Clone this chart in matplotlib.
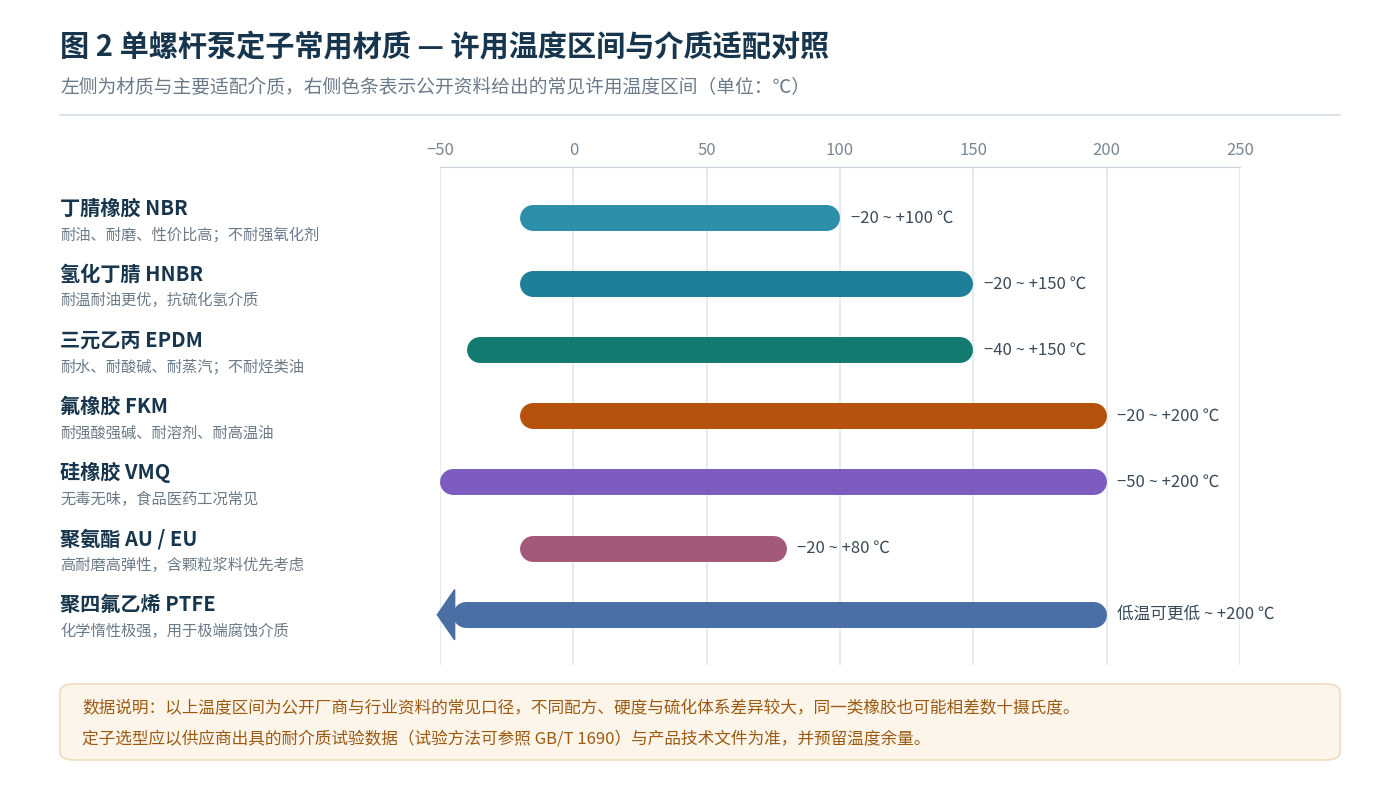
import matplotlib.pyplot as plt
from matplotlib.patches import FancyBboxPatch, Polygon

plt.rcParams['font.family'] = ['Noto Sans CJK SC', 'DejaVu Sans']

names = ["丁腈橡胶 NBR", "氢化丁腈 HNBR", "三元乙丙 EPDM", "氟橡胶 FKM",
         "硅橡胶 VMQ", "聚氨酯 AU / EU", "聚四氟乙烯 PTFE"]
notes = ["耐油、耐磨、性价比高；不耐强氧化剂", "耐温耐油更优，抗硫化氢介质",
         "耐水、耐酸碱、耐蒸汽；不耐烃类油", "耐强酸强碱、耐溶剂、耐高温油",
         "无毒无味，食品医药工况常见", "高耐磨高弹性，含颗粒浆料优先考虑",
         "化学惰性极强，用于极端腐蚀介质"]
t_low = [-20, -20, -40, -20, -50, -20, -45]
t_high = [100, 150, 150, 200, 200, 80, 200]
range_labels = ["−20 ~ +100 ℃", "−20 ~ +150 ℃", "−40 ~ +150 ℃", "−20 ~ +200 ℃",
                "−50 ~ +200 ℃", "−20 ~ +80 ℃", "低温可更低 ~ +200 ℃"]
colors = ["#2e8fa8", "#1f7f99", "#127a6e", "#b5530e", "#7c5cbf", "#a35a7a", "#4a6fa5"]
ticks = [-50, 0, 50, 100, 150, 200, 250]

fig = plt.figure(figsize=(14, 7.9), dpi=100)
ax = fig.add_axes([440/1400, 1-665/790, 800/1400, 498/790])
ax.set_xlim(-50, 250)
ax.set_ylim(6.76, -0.77)
for t in ticks:
    ax.axvline(t, color="#e6ebf0", lw=1.5, zorder=0)
ax.set_xticks(ticks)
ax.set_xticklabels(["−50" if t < 0 else str(t) for t in ticks])
ax.xaxis.tick_top()
ax.tick_params(axis='x', length=0, labelsize=12, labelcolor="#7a8896", pad=6)
ax.set_yticks([])
for s in ["left", "right", "bottom"]:
    ax.spines[s].set_visible(False)
ax.spines["top"].set_color("#c8d2dc")

r = 4.9  # half bar height in data units
for i in range(len(names)):
    ax.plot([t_low[i] + r, t_high[i] - r], [i, i], color=colors[i], lw=18.7,
            solid_capstyle="round", zorder=2)
    ax.text(t_high[i] + 4, i, range_labels[i], va="center", fontsize=12, color="#3a4a5a")
# open-ended arrow for PTFE
ax.add_patch(Polygon([[-51, 6], [-44.5, 5.62], [-44.5, 6.38]], closed=True,
                     color=colors[6], clip_on=False, zorder=3))

for i in range(len(names)):
    y = 1 - (218 + 66.2 * i) / 790
    fig.text(60/1400, y + 0.013, names[i], fontsize=14.5, fontweight="bold",
             color="#17364d", va="center")
    fig.text(60/1400, y - 0.021, notes[i], fontsize=11, color="#6b7a88", va="center")

fig.text(60/1400, 1-46/790, "图 2 单螺杆泵定子常用材质 — 许用温度区间与介质适配对照",
         fontsize=21, fontweight="bold", color="#17364d", va="center")
fig.text(60/1400, 1-88/790, "左侧为材质与主要适配介质，右侧色条表示公开资料给出的常见许用温度区间（单位：℃）",
         fontsize=13.5, color="#6b7a88", va="center")
fig.add_artist(plt.Line2D([60/1400, 1340/1400], [1-115/790, 1-115/790], color="#d5dde5", lw=1.2))

box = FancyBboxPatch((60/1400, 1-760/790), 1280/1400, 76/790,
                     boxstyle="round,pad=0,rounding_size=0.01", transform=fig.transFigure,
                     facecolor="#fdf5ea", edgecolor="#f0dcc0", lw=1.2)
fig.add_artist(box)
fig.text(82/1400, 1-709/790, "数据说明：以上温度区间为公开厂商与行业资料的常见口径，不同配方、硬度与硫化体系差异较大，同一类橡胶也可能相差数十摄氏度。",
         fontsize=12, color="#9a5a12", va="center")
fig.text(82/1400, 1-739/790, "定子选型应以供应商出具的耐介质试验数据（试验方法可参照 GB/T 1690）与产品技术文件为准，并预留温度余量。",
         fontsize=12, color="#9a5a12", va="center")

fig.savefig("out.png", dpi=100)
